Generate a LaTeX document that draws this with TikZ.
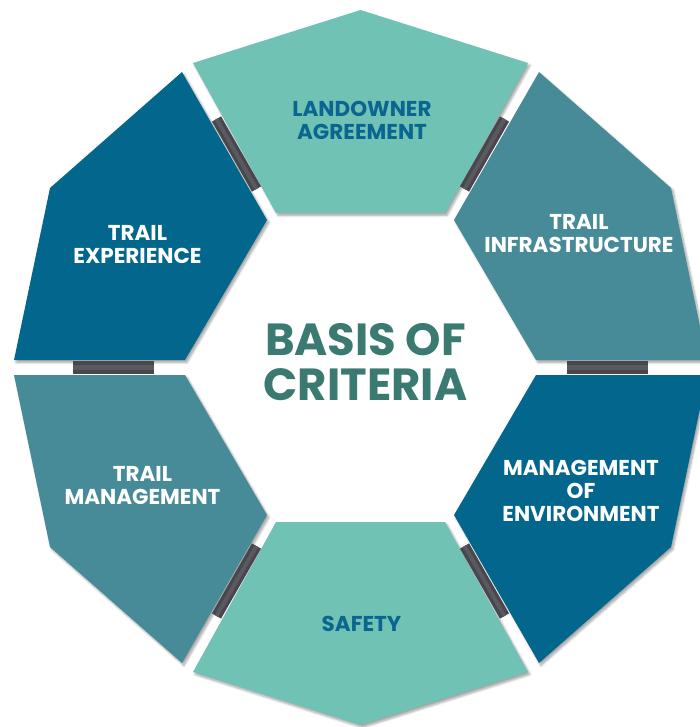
\documentclass[tikz,border=0pt]{standalone}
\usepackage{fontspec}
\setmainfont{Poppins}
\usetikzlibrary{shadows.blur}
\definecolor{lteal}{HTML}{70C2B4}
\definecolor{dblue}{HTML}{03668C}
\definecolor{mteal}{HTML}{478B98}
\definecolor{titlec}{HTML}{3B7A70}
\definecolor{bluetxt}{HTML}{0A6690}
\definecolor{barc}{HTML}{48474D}
\definecolor{barl}{HTML}{5A595F}
\tikzset{
  seg/.style={draw=none, blur shadow={shadow xshift=2pt, shadow yshift=-2.5pt, shadow blur steps=6, shadow opacity=35}},
  lbl/.style={font=\fontsize{21.5}{23}\selectfont\bfseries, align=center, text=white, inner sep=0pt},
  bar/.style={line width=10.5pt, draw=barc},
  barhi/.style={line width=4pt, draw=barl},
}
\begin{document}
\begin{tikzpicture}[x=1pt,y=-1pt]
\useasboundingbox (0,0) rectangle (700,727);
% segments
\fill[lteal, seg] (360.5,10) -- (528,63) -- (445,213) -- (276,213) -- (193,63) -- cycle;
\fill[dblue, seg] (182,72) -- (267,220) -- (185,360) -- (14,360) -- (50,188) -- cycle;
\fill[mteal, seg] (539,72) -- (671,188) -- (707,360) -- (536,360) -- (454,220) -- cycle;
\fill[mteal, seg] (14,375) -- (185,375) -- (267,515) -- (182,663) -- (50,547) -- cycle;
\fill[dblue, seg] (536,375) -- (707,375) -- (671,547) -- (539,663) -- (454,515) -- cycle;
\fill[lteal, seg] (276,522) -- (445,522) -- (528,672) -- (360.5,725) -- (193,672) -- cycle;
% connector end points
\coordinate (tl1) at (216.5,119);
\coordinate (tl2) at (256.5,189);
\coordinate (tr1) at (504.5,119);
\coordinate (tr2) at (464.5,189);
\coordinate (ml1) at (73,367.5);
\coordinate (ml2) at (154,367.5);
\coordinate (mr1) at (567,367.5);
\coordinate (mr2) at (648,367.5);
\coordinate (bl1) at (216.5,616);
\coordinate (bl2) at (256.5,546);
\coordinate (br1) at (504.5,616);
\coordinate (br2) at (464.5,546);
\foreach \a/\b in {tl1/tl2,tr1/tr2,bl1/bl2,br1/br2}{
  \draw[bar] (\a) -- (\b);
  \draw[barhi] (\a) -- (\b);
}
\draw[bar, line width=13pt] (ml1) -- (ml2);
\draw[barhi, line width=5pt] (ml1) -- (ml2);
\draw[bar, line width=13pt] (mr1) -- (mr2);
\draw[barhi, line width=5pt] (mr1) -- (mr2);
% labels
\node[lbl, text=bluetxt] (land) at (362,120) {LANDOWNER\\AGREEMENT};
\node[lbl] (exp) at (137.5,245) {TRAIL\\EXPERIENCE};
\node[lbl] (infra) at (579,234) {TRAIL\\INFRASTRUCTURE};
\node[lbl] (tman) at (142.5,486) {TRAIL\\MANAGEMENT};
\node[lbl] (menv) at (581,491) {MANAGEMENT\\OF\\ENVIRONMENT};
\node[lbl, text=bluetxt] (safe) at (361.5,624) {SAFETY};
\node[font=\fontsize{45}{45}\selectfont\bfseries, align=center, text=titlec, inner sep=0pt] (title) at (365.5,362.5) {BASIS OF\\CRITERIA};
\end{tikzpicture}
\end{document}
